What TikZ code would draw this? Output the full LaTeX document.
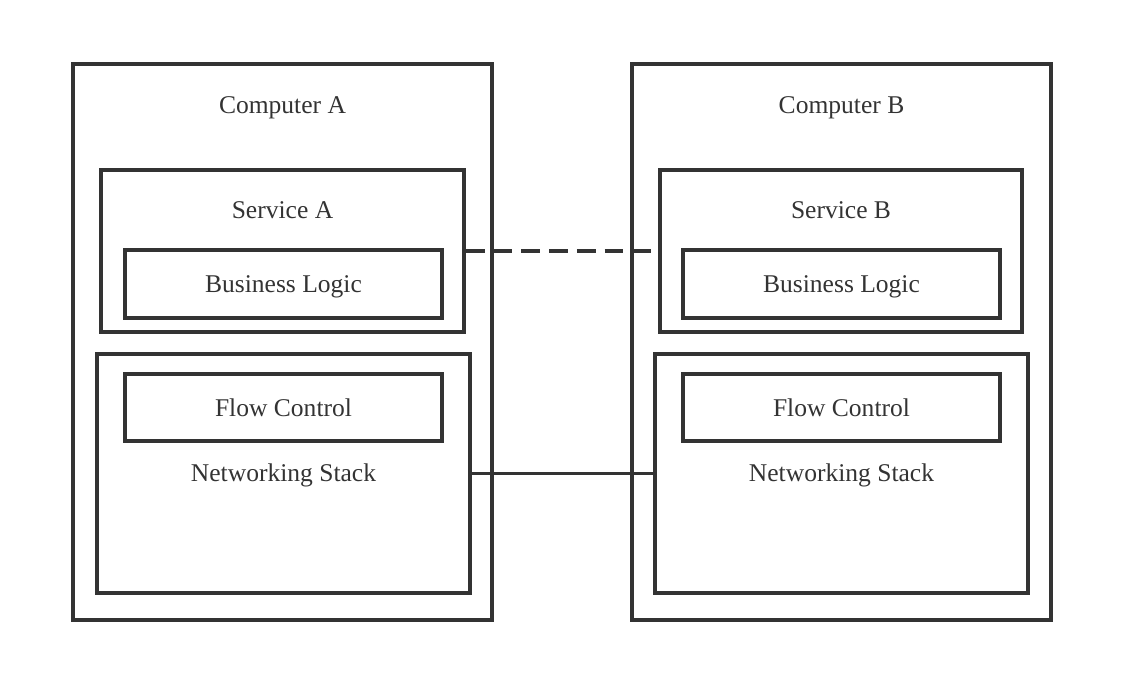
\documentclass[tikz,border=0pt]{standalone}
\usepackage{fontspec}
\setmainfont{Liberation Serif}
\definecolor{boxgray}{HTML}{333333}

\begin{document}
\begin{tikzpicture} [scale = 1, box/.style = {draw = boxgray, line width = 3.2pt, inner sep = 0pt},
lbl/.style = {text = boxgray, font = \fontsize{21.8}{26}\selectfont, inner sep = 0pt}]
\useasboundingbox (0, 0) rectangle (34.02, 20.82);
\node[box, minimum width = 12.57cm, minimum height = 16.68cm] (compA) at (8.475, 10.56){};
\node[box, minimum width = 12.57cm, minimum height = 16.68cm] (compB) at (25.245, 10.56){};
\node[lbl] (compAtxt) at (8.475, 17.60){Computer A};
\node[lbl] (compBtxt) at (25.245, 17.60){Computer B};
\node[box, minimum width = 10.89cm, minimum height = 4.86cm] (svcA) at (8.475, 13.29){};
\node[box, minimum width = 10.86cm, minimum height = 4.86cm] (svcB) at (25.23, 13.29){};
\node[lbl] (svcAtxt) at (8.475, 14.52){Service A};
\node[lbl] (svcBtxt) at (25.23, 14.52){Service B};
\node[box, minimum width = 9.51cm, minimum height = 2.04cm] (logicA) at (8.505, 12.30){};
\node[box, minimum width = 9.51cm, minimum height = 2.04cm] (logicB) at (25.245, 12.30){};
\node[lbl] (logicAtxt) at (8.505, 12.22){Business Logic};
\node[lbl] (logicBtxt) at (25.245, 12.22){Business Logic};
\node[box, minimum width = 11.19cm, minimum height = 7.17cm] (netA) at (8.505, 6.615){};
\node[box, minimum width = 11.19cm, minimum height = 7.17cm] (netB) at (25.245, 6.615){};
\node[lbl] (netAtxt) at (8.505, 6.55){Networking Stack};
\node[lbl] (netBtxt) at (25.245, 6.55){Networking Stack};
\node[box, lbl, minimum width = 9.51cm, minimum height = 2.01cm] (flowA) at (8.505, 8.595){Flow Control};
\node[box, lbl, minimum width = 9.51cm, minimum height = 2.01cm] (flowB) at (25.245, 8.595){Flow Control};
\draw[boxgray, line width = 3.2pt, dash pattern = on 16pt off 7.7pt] (svcA.east) -- (svcB.west);
\draw[boxgray, line width = 3.2pt] (netA.east) -- (netB.west);
\end{tikzpicture}
\end{document}
